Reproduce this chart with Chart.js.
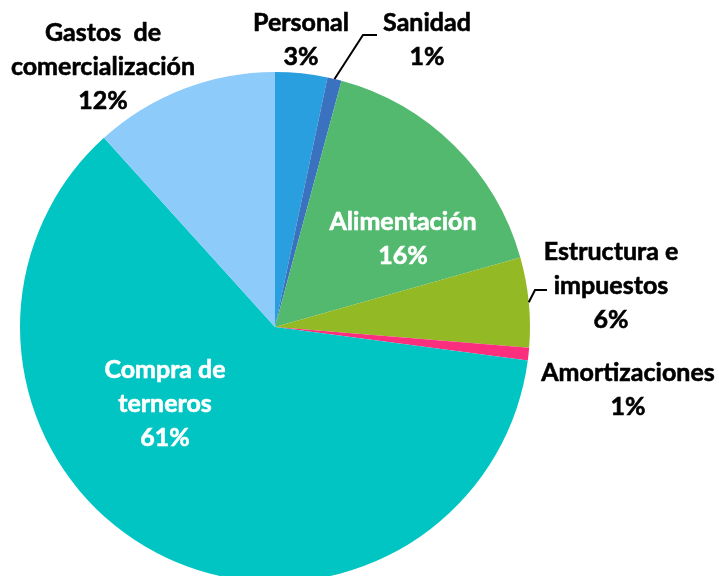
<!DOCTYPE html>
<html>
<head>
<meta charset="utf-8">
<script src="https://cdn.jsdelivr.net/npm/chart.js@4.4.1/dist/chart.umd.min.js"></script>
<style>
  html, body { margin: 0; padding: 0; background: #fff; overflow: hidden; }
  #wrap { position: absolute; left: 0; top: 0; width: 719px; height: 660px; }
</style>
</head>
<body>
<div id="wrap"><canvas id="pie" width="719" height="660"></canvas></div>
<script>
// Cost breakdown (share of total, %)
const categories = [
    ['Personal'],
    ['Sanidad'],
    ['Alimentación'],
    ['Estructura e', 'impuestos'],
    ['Amortizaciones'],
    ['Compra de', 'terneros'],
    ['Gastos  de', 'comercialización']
];
const shares = [3.3, 0.9, 16.4, 5.7, 0.8, 61.2, 11.7];
const sliceColors = ['#2a9fdf', '#3a72bf', '#52b96e', '#93b925', '#fb2f7e', '#00c5c3', '#8dcbfb'];

// label placement relative to pie centre (px), leader line points if any
const labelLayout = [
    { dx: 26, dy: -304, color: '#000' },
    { dx: 152, dy: -304, color: '#000', leader: [[88, -292], [102, -292]] },
    { dx: 128, dy: -105, color: '#fff' },
    { dx: 336, dy: -75, color: '#000', leader: [[260, -37], [272, -37]] },
    { dx: 353, dy: 46, color: '#000' },
    { dx: -110, dy: 43, color: '#fff' },
    { dx: -172, dy: -294, color: '#000' }
];
const lineGap = 34;

const pieLabels = {
    id: 'pieLabels',
    afterDatasetsDraw(chart) {
        const ctx = chart.ctx;
        const meta = chart.getDatasetMeta(0);
        const total = shares.reduce((a, b) => a + b, 0);
        ctx.save();
        ctx.font = 'bold 25px Lato, "Open Sans", sans-serif';
        ctx.textAlign = 'center';
        ctx.textBaseline = 'middle';
        meta.data.forEach((arc, i) => {
            const p = arc.getProps(['x', 'y', 'startAngle', 'endAngle', 'outerRadius'], true);
            const lay = labelLayout[i];
            if (lay.leader) {
                const mid = (p.startAngle + p.endAngle) / 2;
                ctx.beginPath();
                ctx.moveTo(p.x + Math.cos(mid) * p.outerRadius, p.y + Math.sin(mid) * p.outerRadius);
                lay.leader.forEach(pt => ctx.lineTo(p.x + pt[0], p.y + pt[1]));
                ctx.strokeStyle = '#000';
                ctx.lineWidth = 2;
                ctx.stroke();
            }
            const lines = categories[i].concat([Math.round(shares[i] / total * 100) + '%']);
            ctx.fillStyle = lay.color;
            ctx.strokeStyle = lay.color;
            ctx.lineWidth = 0.6;
            lines.forEach((t, k) => {
                ctx.fillText(t, p.x + lay.dx, p.y + lay.dy + k * lineGap);
                ctx.strokeText(t, p.x + lay.dx, p.y + lay.dy + k * lineGap);
            });
        });
        ctx.restore();
    }
};

new Chart(document.getElementById('pie'), {
    type: 'pie',
    data: {
        labels: categories.map(c => c.join(' ')),
        datasets: [{
            data: shares,
            backgroundColor: sliceColors,
            borderWidth: 0
        }]
    },
    options: {
        responsive: false,
        animation: false,
        layout: { padding: { left: 20, right: 189, top: 72, bottom: 78 } },
        plugins: {
            legend: { display: false },
            tooltip: { enabled: false }
        }
    },
    plugins: [pieLabels]
});
</script>
</body>
</html>
